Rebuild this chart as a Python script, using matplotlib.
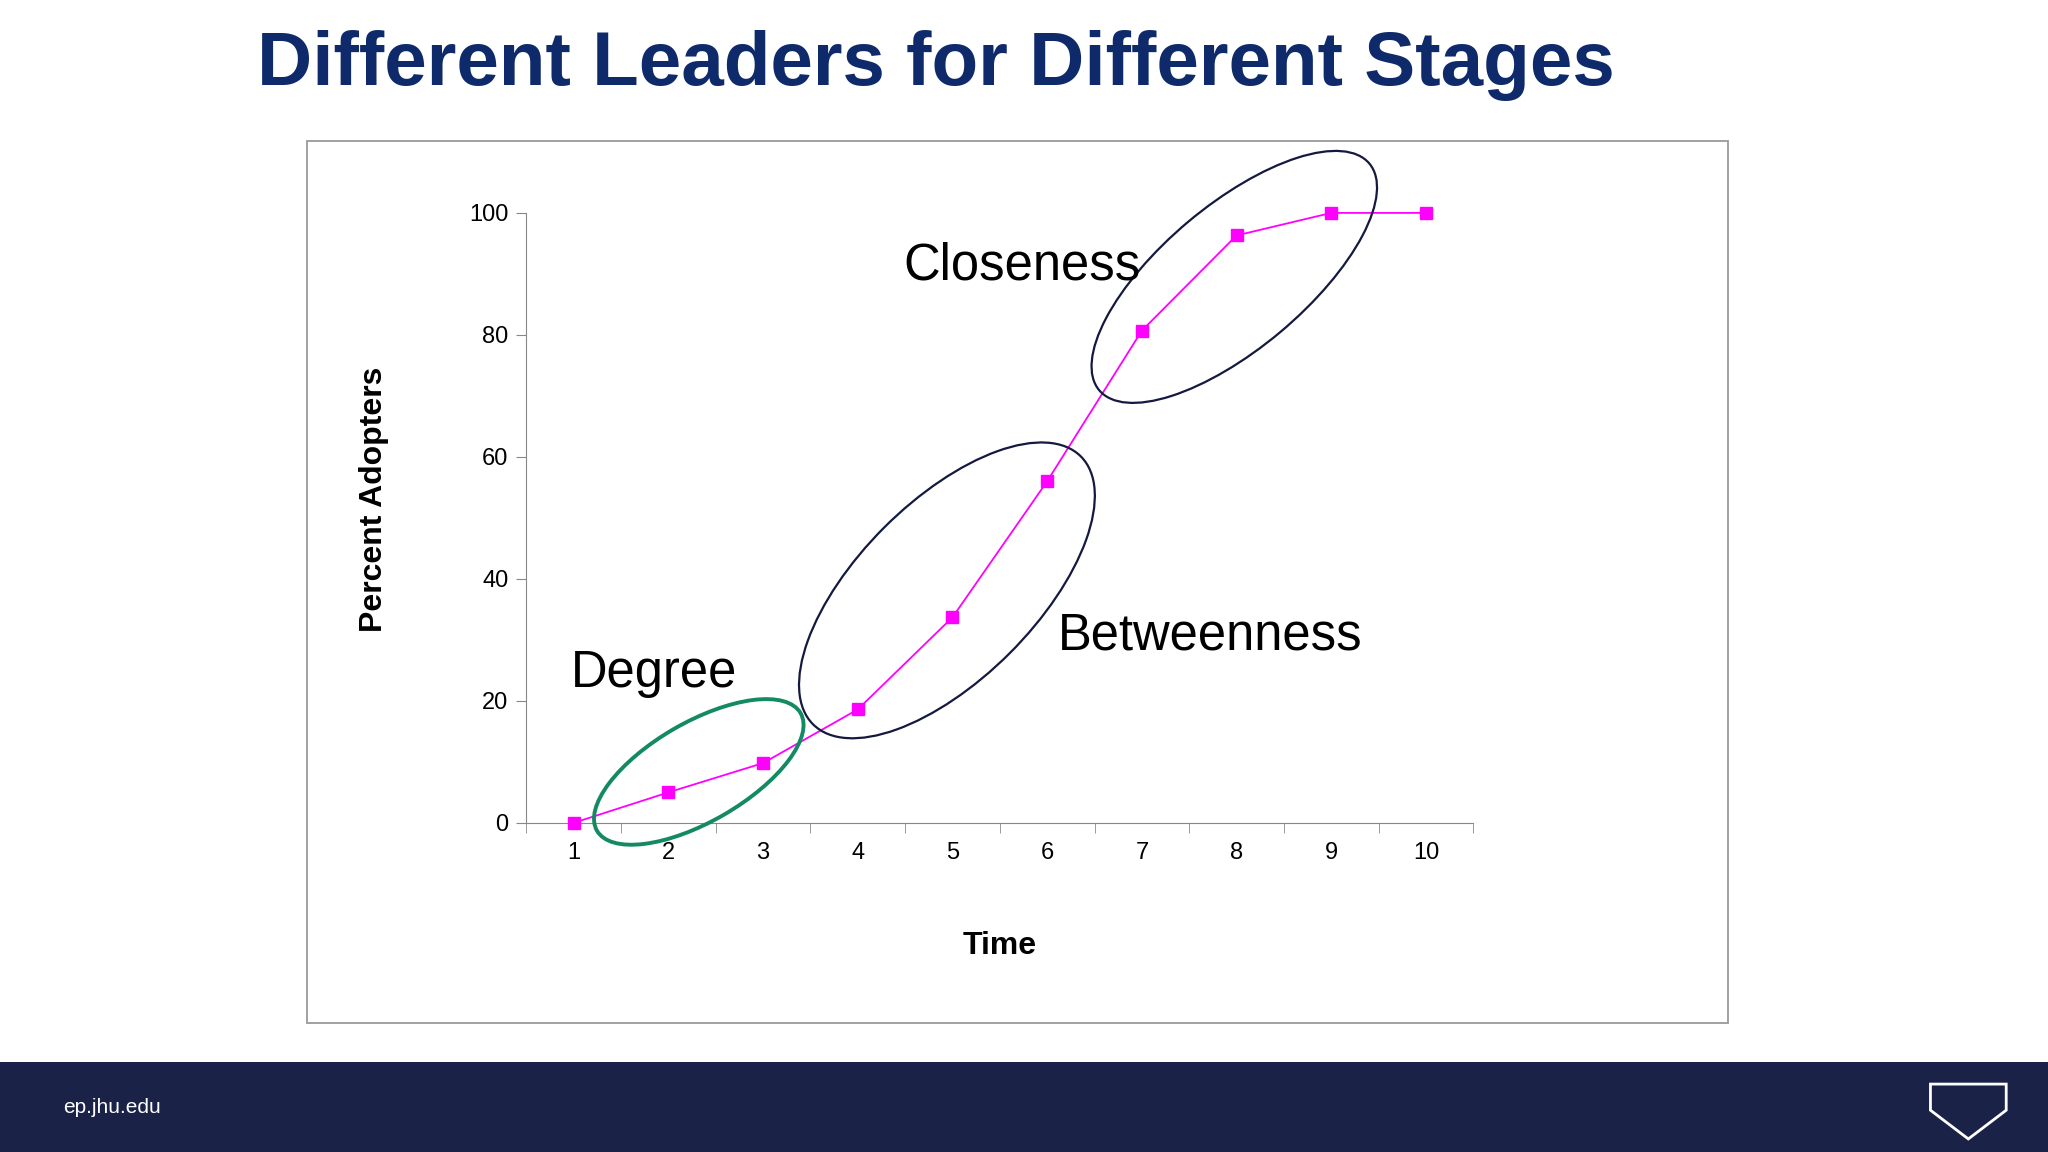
import matplotlib.pyplot as plt
from matplotlib.patches import Ellipse, Rectangle, Polygon

plt.rcParams['font.family'] = ['Liberation Sans', 'DejaVu Sans']

time = [1, 2, 3, 4, 5, 6, 7, 8, 9, 10]
adopters = [0, 5, 9.8, 18.6, 33.7, 56, 80.7, 96.3, 100, 100]
yticks = [0, 20, 40, 60, 80, 100]

W, H = 1568, 882  # reference layout units
fig = plt.figure(figsize=(20.48, 11.52), dpi=100)
fig.patch.set_facecolor('white')

# background / overlay axes in layout units (y down)
bg = fig.add_axes([0, 0, 1, 1])
bg.set_xlim(0, W)
bg.set_ylim(H, 0)
bg.axis('off')
bg.add_patch(Rectangle((235, 108), 1088, 675, fill=False, ec='#9a9a9a', lw=1.3))
bg.add_patch(Rectangle((0, 813), W, 69, fc='#1b2248', ec='none'))
bg.text(197, 50, 'Different Leaders for Different Stages', fontsize=55, fontweight='bold',
        color='#0e2a6b', va='center', ha='left')
bg.text(48, 848, 'ep.jhu.edu', fontsize=15, color='white', va='center')
bg.add_patch(Polygon([(1478, 830), (1536, 830), (1536, 850), (1507, 872), (1478, 850)],
                     closed=True, fill=False, ec='white', lw=2))

ax = fig.add_axes([403 / W, 1 - 630 / H, 725 / W, 467 / H])
ax.plot(time, adopters, color='#ff00ff', lw=1.3, marker='s', markersize=8, zorder=3, clip_on=False)
ax.set_xlim(0.5, 10.5)
ax.set_ylim(0, 100)
ax.set_yticks(yticks)
ax.set_xticks(time)
ax.set_xticks([t + 0.5 for t in range(0, 11)], minor=True)
ax.tick_params(axis='x', which='major', length=0, labelsize=17, pad=14)
ax.tick_params(axis='x', which='minor', length=7, color='#888888', direction='out')
ax.tick_params(axis='y', length=7, color='#888888', labelsize=17, pad=6)
for s in ['top', 'right']:
    ax.spines[s].set_visible(False)
for s in ['left', 'bottom']:
    ax.spines[s].set_color('#888888')
ax.set_xlabel('Time', fontsize=23, fontweight='bold', labelpad=48)
ax.set_ylabel('Percent Adopters', fontsize=23, fontweight='bold')
ax.yaxis.set_label_coords(-0.145, 0.531)
ax.patch.set_alpha(0)

# overlay for ellipses and labels
ov = fig.add_axes([0, 0, 1, 1])
ov.set_xlim(0, W)
ov.set_ylim(H, 0)
ov.axis('off')
ov.patch.set_alpha(0)
ov.add_patch(Ellipse((535, 591), 180, 76, angle=-30, fill=False, ec='#138a62', lw=2.8))
ov.add_patch(Ellipse((725, 452), 290, 136, angle=-45, fill=False, ec='#14193f', lw=1.6))
ov.add_patch(Ellipse((945, 212), 270, 110, angle=-40, fill=False, ec='#14193f', lw=1.6))
ov.text(437, 516, 'Degree', fontsize=36.5, va='center')
ov.text(692, 204, 'Closeness', fontsize=36.5, va='center')
ov.text(810, 487, 'Betweenness', fontsize=36.5, va='center')

fig.savefig('out.png', dpi=100)
